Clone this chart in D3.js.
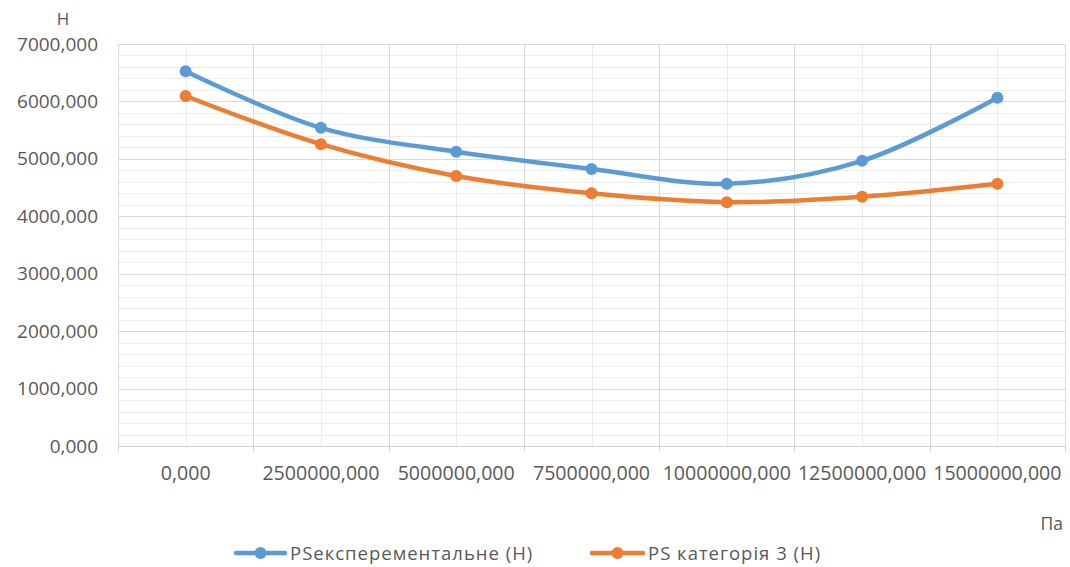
<!DOCTYPE html>
<html><head><meta charset="utf-8">
<script src="https://cdn.jsdelivr.net/npm/d3@7"></script>
<style>
html,body{margin:0;padding:0;background:#fff;}
text{font-family:"Open Sans",sans-serif;fill:#595959;}
</style></head>
<body>
<svg id="chart" width="1070" height="567"></svg>
<script>
const categories = ["0,000","2500000,000","5000000,000","7500000,000","10000000,000","12500000,000","15000000,000"];
const seriesNames = ["PSексперементальне (Н)", "PS категорія 3 (Н)"];
const seriesExp = [6525, 5540, 5125, 4825, 4565, 4965, 6065];
const seriesCat3 = [6095, 5255, 4700, 4400, 4245, 4340, 4565];
const yTicks = [0,1000,2000,3000,4000,5000,6000,7000];
const yMinorTicks = d3.range(0, 7001, 200);
const colors = ["#5B9BD5", "#ED7D31"];

const svg = d3.select("#chart");
const L = 118, R = 1065, T = 44, B = 446;

const x = d3.scaleBand().domain(categories).range([L, R]).paddingInner(0).paddingOuter(0);
const y = d3.scaleLinear().domain([0, 7000]).range([B, T]);
const fmt = v => d3.format(".3f")(v).replace(".", ",");

// minor horizontal grid
svg.append("g").selectAll("line").data(yMinorTicks.filter(v => v % 1000 !== 0)).join("line")
  .attr("x1", L).attr("x2", R).attr("y1", d => Math.round(y(d)) + 0.5).attr("y2", d => Math.round(y(d)) + 0.5)
  .attr("stroke", "#ececec").attr("stroke-width", 1);
// minor vertical grid at category centers
svg.append("g").selectAll("line").data(categories).join("line")
  .attr("x1", d => Math.round(x(d) + x.bandwidth()/2) + 0.5).attr("x2", d => Math.round(x(d) + x.bandwidth()/2) + 0.5)
  .attr("y1", T).attr("y2", B)
  .attr("stroke", "#ececec").attr("stroke-width", 1);
// major horizontal grid
svg.append("g").selectAll("line").data(yTicks.filter(v => v > 0)).join("line")
  .attr("x1", L).attr("x2", R).attr("y1", d => Math.round(y(d)) + 0.5).attr("y2", d => Math.round(y(d)) + 0.5)
  .attr("stroke", "#d9d9d9").attr("stroke-width", 1);
// major vertical grid at category edges + tick marks
const edges = categories.map(c => x(c)).concat([R]);
svg.append("g").selectAll("line").data(edges).join("line")
  .attr("x1", d => Math.round(d) + 0.5).attr("x2", d => Math.round(d) + 0.5)
  .attr("y1", T).attr("y2", B + 6)
  .attr("stroke", "#d9d9d9").attr("stroke-width", 1);
// x axis line
svg.append("line").attr("x1", L).attr("x2", R).attr("y1", Math.round(B) + 0.5).attr("y2", Math.round(B) + 0.5)
  .attr("stroke", "#d0d0d0").attr("stroke-width", 1);

// y axis labels
const yAxis = svg.append("g").attr("transform", `translate(${L},0)`)
  .call(d3.axisLeft(y).tickValues(yTicks).tickFormat(fmt).tickSize(0).tickPadding(20));
yAxis.select(".domain").remove();
yAxis.selectAll("text").attr("font-size", 19).attr("font-family", "Open Sans").attr("fill", "#595959");

// x axis labels
const xAxis = svg.append("g").attr("transform", `translate(0,${B})`)
  .call(d3.axisBottom(x).tickSize(0).tickPadding(20));
xAxis.select(".domain").remove();
xAxis.selectAll("text").attr("font-size", 19.6).attr("font-family", "Open Sans").attr("fill", "#595959");

// axis titles
svg.append("text").attr("x", 63).attr("y", 25).attr("text-anchor", "middle").attr("font-size", 17).text("Н");
svg.append("text").attr("x", 1063).attr("y", 530).attr("text-anchor", "end").attr("font-size", 17.5).text("Па");

// series
const line = d3.line().x((d, i) => x(categories[i]) + x.bandwidth()/2).y(d => y(d)).curve(d3.curveCatmullRom.alpha(0.5));
[seriesExp, seriesCat3].forEach((s, k) => {
  svg.append("path").datum(s).attr("d", line).attr("fill", "none")
    .attr("stroke", colors[k]).attr("stroke-width", 4.5).attr("stroke-linejoin", "round").attr("stroke-linecap", "round");
  svg.append("g").selectAll("circle").data(s).join("circle")
    .attr("cx", (d, i) => x(categories[i]) + x.bandwidth()/2).attr("cy", d => y(d))
    .attr("r", 6).attr("fill", colors[k]);
});

// legend
const legendItems = [{x0: 236, x1: 285, tx: 290}, {x0: 592, x1: 643, tx: 648}];
legendItems.forEach((it, k) => {
  const ly = 553;
  svg.append("line").attr("x1", it.x0).attr("x2", it.x1).attr("y1", ly).attr("y2", ly)
    .attr("stroke", colors[k]).attr("stroke-width", 4.5).attr("stroke-linecap", "round");
  svg.append("circle").attr("cx", (it.x0 + it.x1)/2).attr("cy", ly).attr("r", 6).attr("fill", colors[k]);
  svg.append("text").attr("x", it.tx).attr("y", ly + 6.5).attr("font-size", 18.5).attr("letter-spacing", 1).text(seriesNames[k]);
});
</script>
</body></html>
